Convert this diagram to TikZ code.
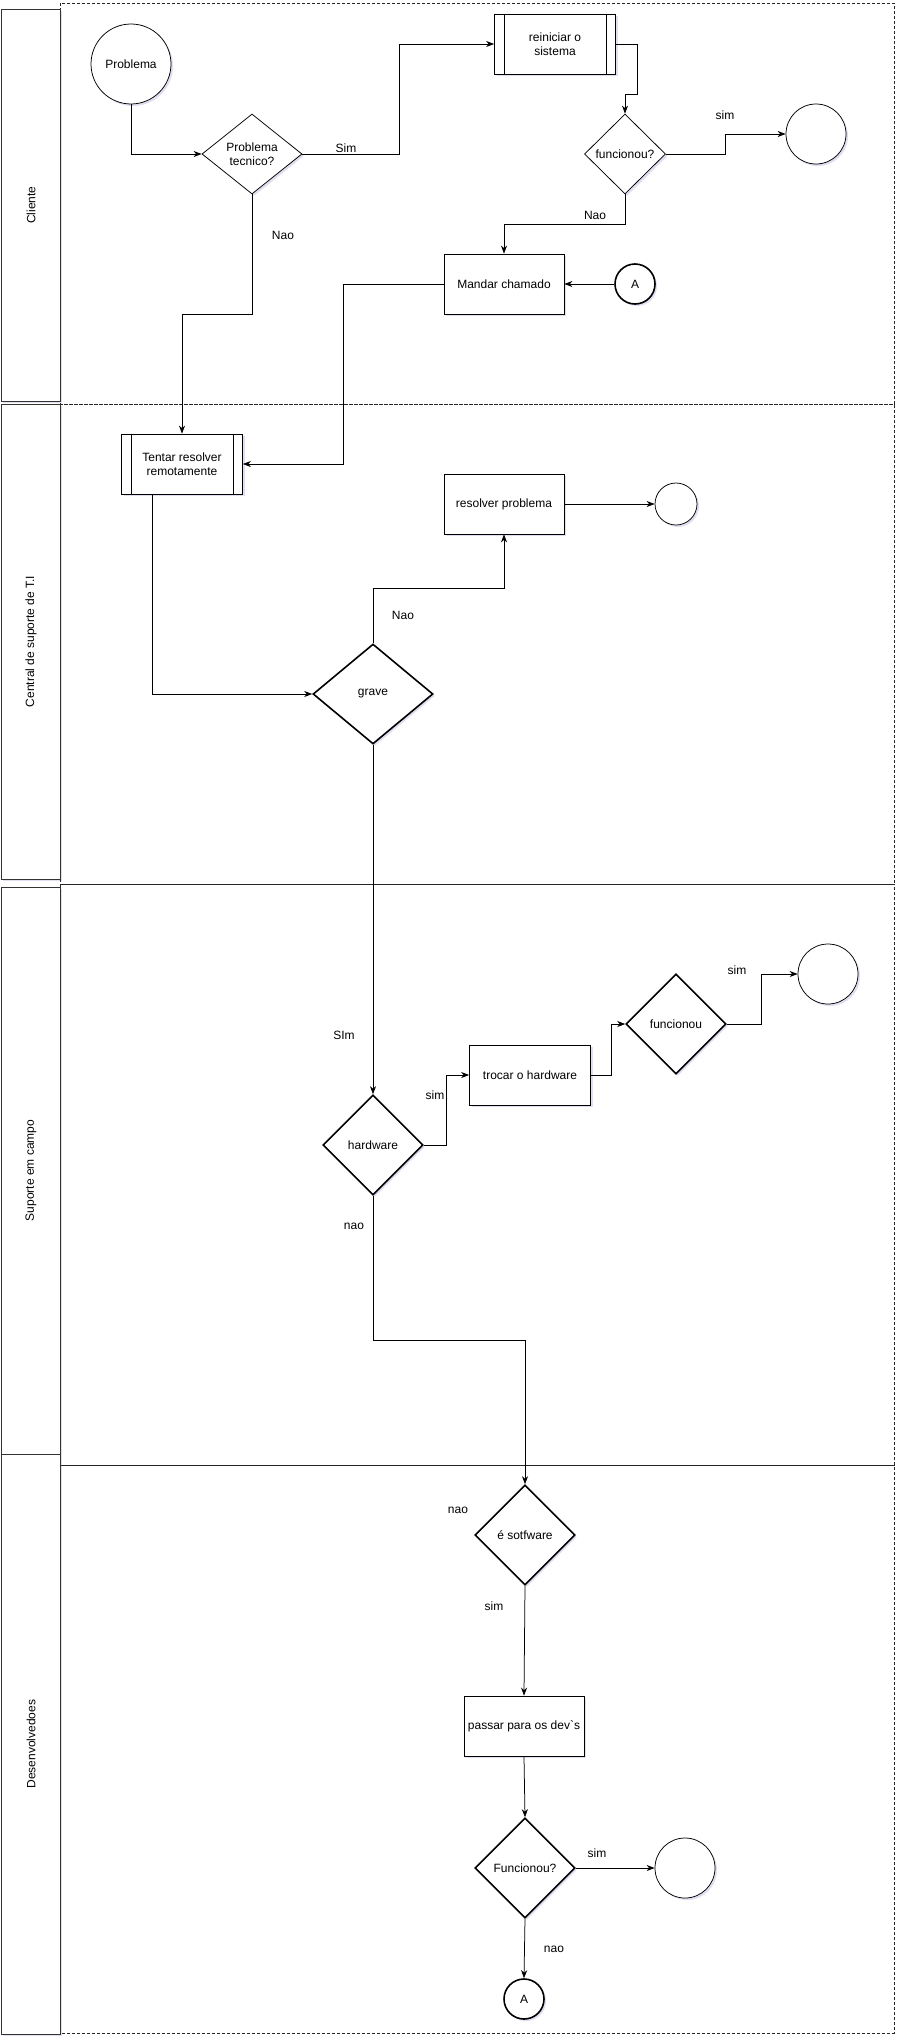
\documentclass[tikz,border=0pt]{standalone}
\usepackage{fontspec}
\setmainfont{Liberation Sans}
\usetikzlibrary{positioning, shapes.geometric, arrows.meta, shadows}

\begin{document}
\begin{tikzpicture}[
  x=1pt, y=-1pt,
  every node/.style={font=\fontsize{12}{14}\selectfont},
  shade/.style={drop shadow={shadow xshift=2pt, shadow yshift=-2pt, opacity=0.18, fill=blue!40!gray}},
  lanehead/.style={rectangle, draw=black!80, line width=0.75pt, fill=white, shade},
  lanebox/.style={draw=black!85, line width=0.75pt, dash pattern=on 3pt off 2pt},
  proc/.style={rectangle, draw=black, line width=0.75pt, fill=white, minimum width=120pt, minimum height=60pt, align=center, inner sep=2pt, shade},
  decision/.style={diamond, draw=black, line width=0.75pt, fill=white, aspect=1.25, inner sep=0pt, align=center, shade},
  bigdecision/.style={decision, line width=1.6pt},
  terminal/.style={circle, draw=black, line width=0.75pt, fill=white, inner sep=0pt, shade},
  connector/.style={circle, draw=black, fill=white, line width=1.6pt, minimum size=40pt, inner sep=0pt, shade},
  lbl/.style={inner sep=1pt},
  line/.style={line width=0.75pt},
  arrow/.style={line, -{Stealth[length=8pt, width=6pt, inset=2.5pt]}}
]
\useasboundingbox (0,0) rectangle (903,2042);

% --- SWIMLANES ---
\foreach \top/\bot/\htop/\hbot/\name/\txt in {
  3/404/9/401/cliente/Cliente,
  404/884/404/879/central/Central de suporte de T.I,
  884/1465/887/1454/campo/Suporte em campo,
  1465/2033/1454/2034/devs/Desenvolvedoes} {
  \draw[lanebox] (60,\top) rectangle (894,\bot);
  \draw[lanehead] (1,\htop) rectangle (60,\hbot);
  \node[rotate=90] (\name) at (31,{(\htop+\hbot)/2}) {\txt};
}

% --- CLIENTE ---
\node[terminal, minimum size=80pt] (prob) at (131,64) {Problema};
\node[decision, minimum width=100pt, minimum height=80pt] (tec) at (252,154) {Problema\\tecnico?};
\node[proc, minimum width=121pt] (rein) at (555,44) {reiniciar o\\sistema};
\node[decision, minimum width=81pt, minimum height=80pt] (func1) at (625,154) {funcionou?};
\node[terminal, minimum size=60pt] (end1) at (816,134) {};
\node[proc] (mand) at (504,284) {Mandar chamado};
\node[connector] (a1) at (635,284) {A};

% --- CENTRAL DE SUPORTE ---
\node[proc, minimum width=121pt] (tent) at (182,464) {Tentar resolver\\remotamente};
\node[proc] (res) at (504,504) {resolver problema};
\node[terminal, minimum size=42pt] (end2) at (676,504) {};
\node[bigdecision, minimum width=120pt, minimum height=100pt] (grave) at (373,694) {grave};

% --- SUPORTE EM CAMPO ---
\node[bigdecision, minimum width=100pt, minimum height=100pt] (hw) at (373,1145) {hardware};
\node[proc, minimum width=121pt] (troc) at (530,1075) {trocar o hardware};
\node[bigdecision, minimum width=100pt, minimum height=100pt] (func2) at (676,1024) {funcionou};
\node[terminal, minimum size=60pt] (end3) at (828,974) {};

% --- DESENVOLVEDORES ---
\node[bigdecision, minimum width=100pt, minimum height=100pt] (soft) at (525,1535) {é sotfware};
\node[proc] (pass) at (524,1726) {passar para os dev\textasciigrave s};
\node[bigdecision, minimum width=100pt, minimum height=100pt] (func3) at (525,1868) {Funcionou?};
\node[terminal, minimum size=60pt] (end4) at (685,1868) {};
\node[connector] (a2) at (524,1999) {A};

% subprocess side bars
\foreach \n in {rein, tent} {
  \draw[line] ([xshift=10pt]\n.north west) -- ([xshift=10pt]\n.south west);
  \draw[line] ([xshift=-10pt]\n.north east) -- ([xshift=-10pt]\n.south east);
}

% --- CONNECTIONS ---
\draw[arrow] (prob.south) |- (tec.west);
\draw[arrow] (tec.east) -- ++(97,0) |- (rein.west);
\draw[arrow] (rein.east) -- ++(21,0) -- ++(0,50) -| (func1.north);
\draw[arrow] (func1.east) -- ++(59,0) |- (end1.west);
\draw[arrow] (func1.south) -- ++(0,30) -| (mand.north);
\draw[arrow] (a1.west) -- (mand.east);
\draw[arrow] (tec.south) -- ++(0,120) -| (tent.north);
\draw[arrow] (mand.west) -- ++(-100,0) |- (tent.east);
\draw[arrow] ([xshift=-30pt]tent.south) |- (grave.west);
\draw[arrow] (grave.north) -- ++(0,-55) -| (res.south);
\draw[arrow] (res.east) -- (end2.west);
\draw[arrow] (grave.south) -- (hw.north);
\draw[arrow] (hw.east) -- ++(23,0) |- (troc.west);
\draw[arrow] (troc.east) -- ++(20,0) |- (func2.west);
\draw[arrow] (func2.east) -- ++(35,0) |- (end3.west);
\draw[arrow] (hw.south) -- ++(0,145) -| (soft.north);
\draw[arrow] (soft.south) -- (pass.north);
\draw[arrow] (pass.south) -- (func3.north);
\draw[arrow] (func3.east) -- (end4.west);
\draw[arrow] (func3.south) -- (a2.north);

% edge labels
\node[lbl] (l1) at (346,148) {Sim};
\node[lbl] (l2) at (725,115) {sim};
\node[lbl] (l3) at (595,215) {Nao};
\node[lbl] (l4) at (283,235) {Nao};
\node[lbl] (l5) at (403,615) {Nao};
\node[lbl] (l6) at (344,1035) {SIm};
\node[lbl] (l7) at (435,1095) {sim};
\node[lbl] (l8) at (737,970) {sim};
\node[lbl] (l9) at (354,1226) {nao};
\node[lbl] (l10) at (458,1510) {nao};
\node[lbl] (l11) at (494,1606) {sim};
\node[lbl] (l12) at (597,1853) {sim};
\node[lbl] (l13) at (554,1949) {nao};

\end{tikzpicture}
\end{document}
